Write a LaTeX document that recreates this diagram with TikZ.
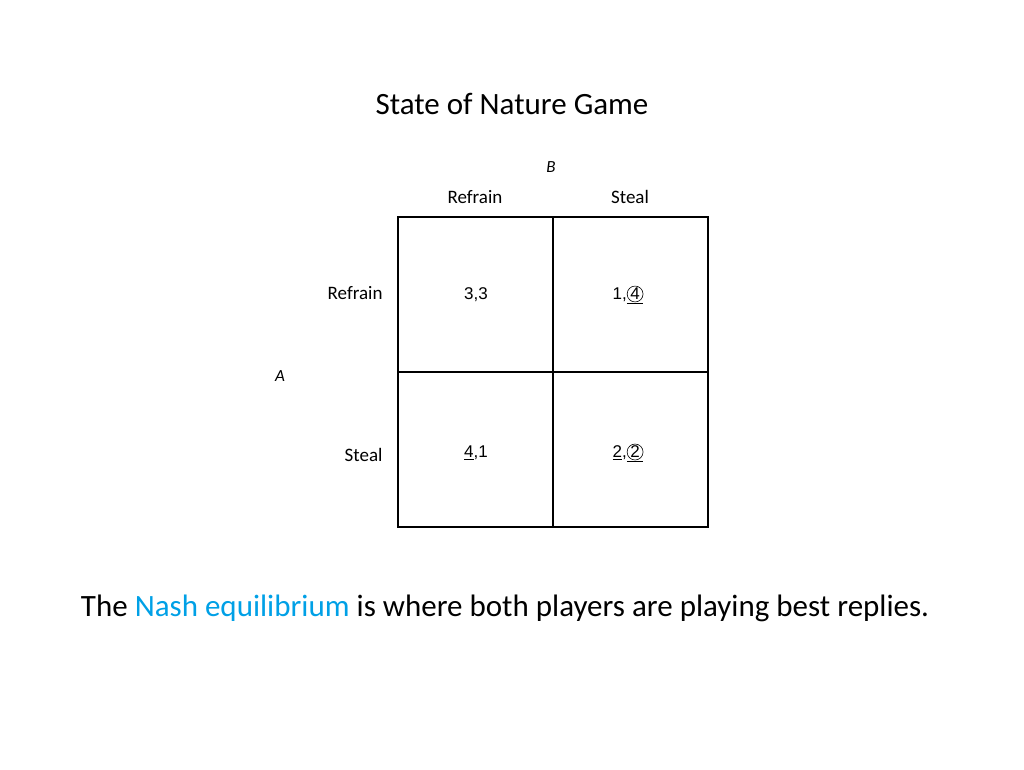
\documentclass[tikz,border=0pt]{standalone}
\usepackage{fontspec}
\setmainfont{Carlito}
\newfontfamily\arialf{Liberation Sans}
\definecolor{nashblue}{RGB}{0,160,230}
\begin{document}
\begin{tikzpicture}[x=1pt,y=-1pt,
  cell/.style={draw,line width=1.4pt,minimum size=155pt,inner sep=0pt},
  lab/.style={font=\fontsize{19}{22}\selectfont},
  pay/.style={font=\arialf\fontsize{17}{20}\selectfont},
  circ/.style={circle,draw,inner sep=0.3pt,line width=0.6pt}]
\useasboundingbox (0,0) rectangle (1024,769);
\node[font=\fontsize{31}{36}\selectfont] (title) at (512,104) {State of Nature Game};
\node[font=\itshape\fontsize{17}{20}\selectfont] (B) at (551,167) {B};
\node[font=\itshape\fontsize{17}{20}\selectfont] (A) at (280,376) {A};
\node[lab] (cr) at (475,197) {Refrain};
\node[lab] (cs) at (630,197) {Steal};
\node[lab,anchor=east] (rr) at (386,293) {Refrain};
\node[lab,anchor=east] (rs) at (386,455) {Steal};
\node[cell] (c11) at (475.5,294.5) {};
\node[cell] (c12) at (630.5,294.5) {};
\node[cell] (c21) at (475.5,449.5) {};
\node[cell] (c22) at (630.5,449.5) {};
\node[pay] (p11) at (476,295) {3,3};
\node[pay] (p12) at (628,295) {1,\underline{\tikz[baseline=(x.base)]\node[circ](x){4};}};
\node[pay] (p21) at (476,453) {\underline{4},1};
\node[pay] (p22) at (628,453) {\underline{2},\underline{\tikz[baseline=(x.base)]\node[circ](x){2};}};
\node[font=\fontsize{31}{37}\selectfont] (foot) at (505,608) {The \textcolor{nashblue}{Nash equilibrium} is where both players are playing best replies.};
\end{tikzpicture}
\end{document}
